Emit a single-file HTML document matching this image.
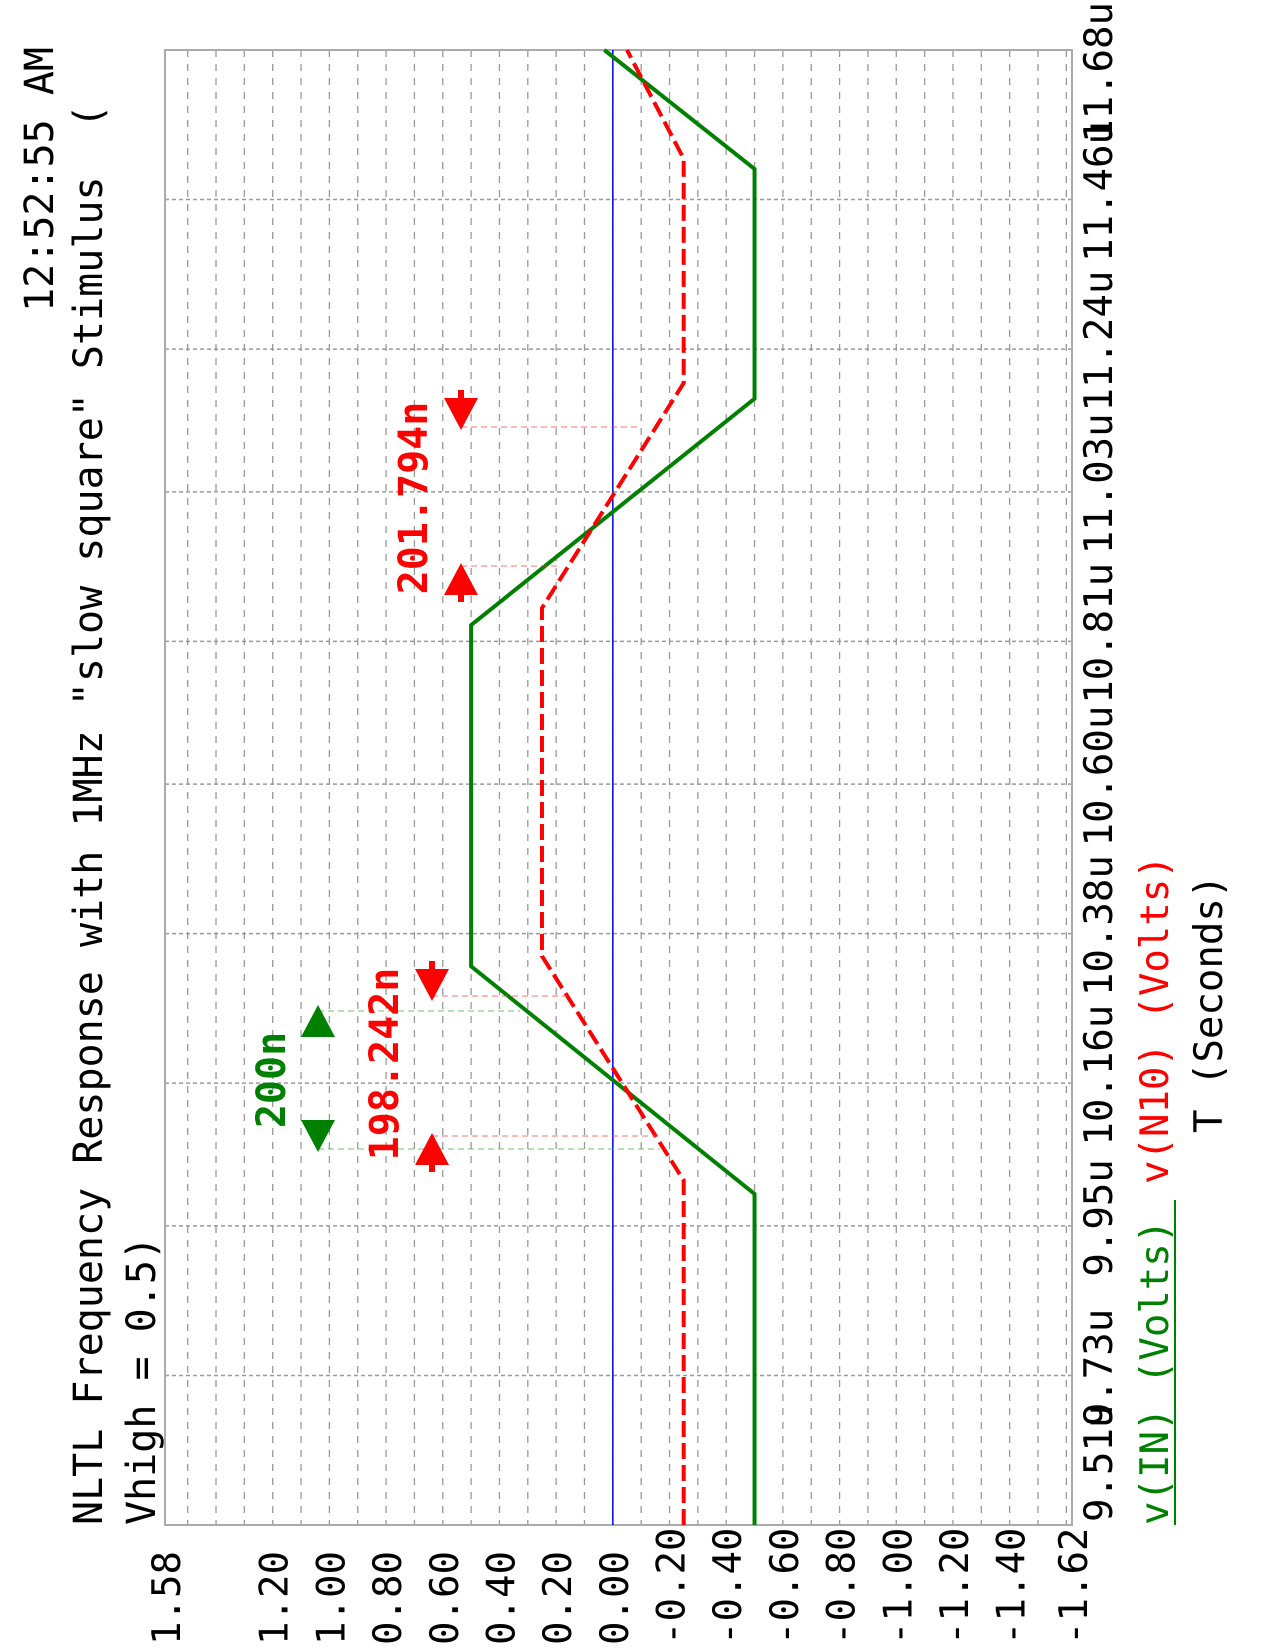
<!DOCTYPE html>
<html><head><meta charset="utf-8"><style>
html,body{margin:0;padding:0;background:#fff}
svg{display:block}
text{font-family:"DejaVu Sans Mono","Liberation Mono",monospace;white-space:pre}
</style></head><body>
<svg id="chart" width="1275" height="1650" viewBox="0 0 1275 1650" xmlns="http://www.w3.org/2000/svg" xml:space="preserve"></svg>
<script>
const timeTicks=[9.51,9.73,9.95,10.16,10.38,10.60,10.81,11.03,11.24,11.46,11.68];
const timeLabels=["9.51u","9.73u","9.95u","10.16u","10.38u","10.60u","10.81u","11.03u","11.24u","11.46u","11.68u"];
const voltTicks=[1.58,1.20,1.00,0.80,0.60,0.40,0.20,0.00,-0.20,-0.40,-0.60,-0.80,-1.00,-1.20,-1.40,-1.62];
const voltLabels=["1.58","1.20","1.00","0.80","0.60","0.40","0.20","0.00","-0.20","-0.40","-0.60","-0.80","-1.00","-1.20","-1.40","-1.62"];
const inTimes=[9.51,9.997,10.332,10.834,11.167,11.505,11.68];
const inValues=[-0.5,-0.5,0.5,0.5,-0.5,-0.5,0.03];
const n10Times=[9.51,10.017,10.347,10.859,11.19,11.52,11.68];
const n10Values=[-0.25,-0.25,0.25,0.25,-0.25,-0.25,-0.05];

const L=165,R=1072,T=50,B=1525,VMAX=1.58,VMIN=-1.62,TMIN=9.51,TMAX=11.68;
const X=v=>L+(VMAX-v)/(VMAX-VMIN)*(R-L);
const Y=t=>B-(t-TMIN)/(TMAX-TMIN)*(B-T);
const svg=document.getElementById('chart');
const NS='http://www.w3.org/2000/svg';
function mk(tag,a,parent){const e=document.createElementNS(NS,tag);for(const k in a)e.setAttribute(k,a[k]);(parent||svg).appendChild(e);return e;}
function rtext(x,y,s,anchor,fill,size,weight){const e=mk('text',{transform:`translate(${x},${y}) rotate(-90)`,'text-anchor':anchor,fill:fill,'font-size':size,'font-weight':weight||'normal'});e.textContent=s;return e;}

for(let i=0;i<=31;i++){const v=1.5-i*0.1;if(v<VMIN-1e-9)break;
 const g=mk('line',{x1:X(v),x2:X(v),y1:T,y2:B,stroke:'#999','stroke-width':1.3,'stroke-dasharray':'7,7'});
 
 }
timeTicks.forEach((t,i)=>{if(i==0||i==timeTicks.length-1)return;
 const g=mk('line',{x1:L,x2:R,y1:Y(t),y2:Y(t),stroke:'#999','stroke-width':1.5,'stroke-dasharray':'4,3'});
 
 });
const fr=mk('rect',{x:L,y:T,width:R-L,height:B-T,fill:'none',stroke:'#aaa','stroke-width':2});



const z=mk('line',{x1:X(0),x2:X(0),y1:T,y2:B,stroke:'#0000ff','stroke-width':1.5});



const pIn=mk('polyline',{points:inTimes.map((t,i)=>X(inValues[i])+','+Y(t)).join(' '),fill:'none',stroke:'#008000','stroke-width':4});


const pN=mk('polyline',{points:n10Times.map((t,i)=>X(n10Values[i])+','+Y(t)).join(' '),fill:'none',stroke:'#ff0000','stroke-width':4,'stroke-dasharray':'16,6'});



voltTicks.forEach((v,i)=>{const e=rtext(X(v)+15,1645,voltLabels[i],'start','#000',39);
 
 });
timeTicks.forEach((t,i)=>{let e;
 if(i==0)e=rtext(1112,1522,timeLabels[i],'start','#000',39);
 else if(i==timeTicks.length-1)e=rtext(1112,2,timeLabels[i],'end','#000',39);
 else e=rtext(1112,Y(t)-8,timeLabels[i],'middle','#000',39);
 
 });

function arrow(x,y,dir,color,name){
 const g=mk('g',{});
 
 
 const tip=y,base=y-dir*32;
 mk('polygon',{points:`${x},${tip} ${x-17},${base} ${x+17},${base}`,fill:color},g);
 return g;}
function guide(x1,x2,y,color,name){const e=mk('line',{x1:x1,x2:x2,y1:y,y2:y,stroke:color,'stroke-width':1.2,'stroke-dasharray':'6,4',opacity:0.6});
 
 }
guide(318,520,1011,'#4a4','green-guide-top');
guide(318,660,1149,'#4a4','green-guide-bottom');
guide(432,567,996,'#f44','red-guide-1-top');
guide(432,660,1136,'#f44','red-guide-1-bottom');
guide(461,640,427,'#f44','red-guide-2-top');
guide(461,560,566,'#f44','red-guide-2-bottom');
arrow(318,1005,-1,'#008000','green-arrow-up');
arrow(318,1152,1,'#008000','green-arrow-down');
arrow(432,1001,1,'#ff0000','red-arrow-1-down');
mk('rect',{x:429,y:961,width:6,height:12,fill:'#ff0000'});
arrow(432,1133,-1,'#ff0000','red-arrow-1-up');
mk('rect',{x:429,y:1160,width:6,height:12,fill:'#ff0000'});
arrow(461,430,1,'#ff0000','red-arrow-2-down');
mk('rect',{x:458,y:390,width:6,height:12,fill:'#ff0000'});
arrow(461,563,-1,'#ff0000','red-arrow-2-up');
mk('rect',{x:458,y:590,width:6,height:12,fill:'#ff0000'});
let a;
a=rtext(285,1080,'200n','middle','#008000',40,'bold');


a=rtext(398,1064,'198.242n','middle','#ff0000',40,'bold');


a=rtext(427,498,'201.794n','middle','#ff0000',40,'bold');



a=rtext(102,1525,'NLTL Frequency Response with 1MHz "slow square" Stimulus\u00a0\u00a0(','start','#000',40);


a=rtext(155,1525,'Vhigh = 0.5)','start','#000',40);


a=rtext(53,47,'12:52:55 AM','end','#000',40);


a=rtext(1168,1525,'v(IN) (Volts)','start','#008000',39);


const ul=mk('line',{x1:1175,x2:1175,y1:1525,y2:1200,stroke:'#008000','stroke-width':2});


a=rtext(1168,1184,'v(N10) (Volts)','start','#ff0000',39);


a=rtext(1222,1133,'T (Seconds)','start','#000',39);


</script>
</body></html>
